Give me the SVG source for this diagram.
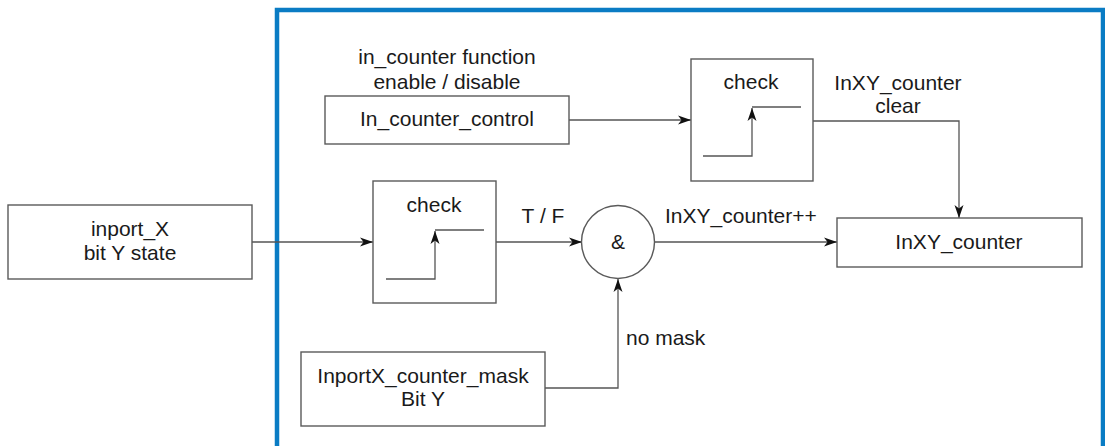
<svg xmlns="http://www.w3.org/2000/svg" width="1105" height="446" viewBox="0 0 1105 446">
<defs>
<marker id="ah" markerUnits="userSpaceOnUse" markerWidth="14" markerHeight="10" refX="13" refY="5" orient="auto">
<path d="M0,0.5 L13,5 L0,9.5 L3.5,5 z" fill="#111"/>
</marker>
<style>
.box{fill:#fff;stroke:#5a5a5a;stroke-width:1.4}
.ln{fill:none;stroke:#555;stroke-width:1.3}
.t{font-family:"Liberation Sans",Arial,sans-serif;font-size:21px;fill:#1a1a1a;text-anchor:middle}
.tl{font-family:"Liberation Sans",Arial,sans-serif;font-size:21px;fill:#1a1a1a}
</style>
</defs>
<rect width="1105" height="446" fill="#fff"/>
<path id="frame" d="M277,450 V10 H1103 V450" fill="none" stroke="#0a7cc4" stroke-width="4.5"/>

<g id="connectors">
<line class="ln" x1="252" y1="242" x2="373" y2="242" marker-end="url(#ah)"/>
<line class="ln" x1="496" y1="242" x2="582" y2="242" marker-end="url(#ah)"/>
<line class="ln" x1="655" y1="242" x2="837" y2="242" marker-end="url(#ah)"/>
<polyline class="ln" points="545,388 618,388 618,279" marker-end="url(#ah)"/>
<line class="ln" x1="569" y1="120" x2="691" y2="120" marker-end="url(#ah)"/>
<polyline class="ln" points="813,121 959,121 959,218" marker-end="url(#ah)"/>
</g>

<g id="labels">
<text class="t" x="543" y="223">T / F</text>
<text class="tl" x="665" y="223">InXY_counter++</text>
<text class="tl" x="626" y="345">no mask</text>
<text class="t" x="447" y="64">in_counter function</text>
<text class="t" x="447" y="89">enable / disable</text>
<text class="t" x="898" y="90">InXY_counter</text>
<text class="t" x="898" y="113">clear</text>
</g>

<g id="inport">
<rect class="box" x="8" y="205" width="244" height="74"/>
<text class="t" x="130" y="236">inport_X</text>
<text class="t" x="130" y="260">bit Y state</text>
</g>

<g id="check1">
<rect class="box" x="373" y="181" width="123" height="122"/>
<text class="t" x="434" y="212">check</text>
<polyline class="ln" points="386,279 435,279 435,231" marker-end="url(#ah)"/>
<line class="ln" x1="435" y1="230" x2="484" y2="230"/>
</g>

<g id="and">
<circle class="box" cx="618" cy="242" r="36.5"/>
<text class="t" x="618" y="249">&amp;</text>
</g>

<g id="inxy">
<rect class="box" x="837" y="218" width="245" height="49"/>
<text class="t" x="959" y="249">InXY_counter</text>
</g>

<g id="mask">
<rect class="box" x="301" y="352" width="244" height="74"/>
<text class="t" x="423" y="383">InportX_counter_mask</text>
<text class="t" x="423" y="406">Bit Y</text>
</g>

<g id="control">
<rect class="box" x="325" y="96" width="244" height="48"/>
<text class="t" x="447" y="126">In_counter_control</text>
</g>

<g id="check2">
<rect class="box" x="691" y="59" width="122" height="122"/>
<text class="t" x="751" y="89">check</text>
<polyline class="ln" points="703,156 752,156 752,108" marker-end="url(#ah)"/>
<line class="ln" x1="752" y1="107" x2="801" y2="107"/>
</g>
</svg>
